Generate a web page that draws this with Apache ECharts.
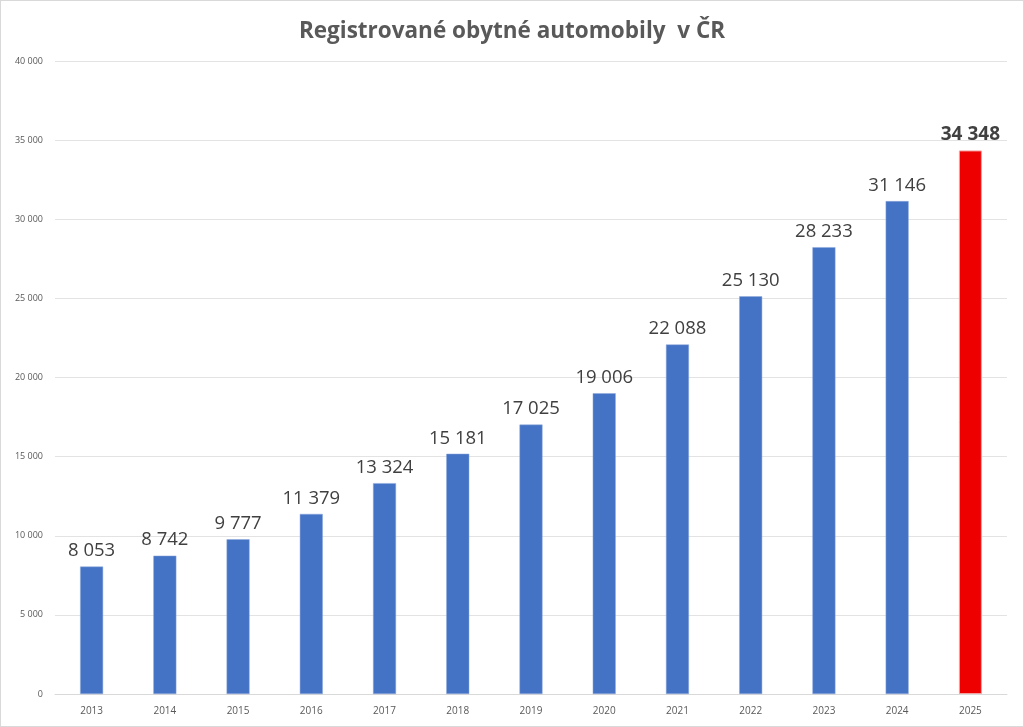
<!DOCTYPE html>
<html><head><meta charset="utf-8">
<script src="https://cdn.jsdelivr.net/npm/echarts@6/dist/echarts.min.js"></script>
<style>html,body{margin:0;padding:0;background:#fff}#c{width:1024px;height:727px;box-sizing:border-box;border:1px solid #d9d9d9}</style>
</head><body><div id="c"></div>
<script>
const years = ['2013','2014','2015','2016','2017','2018','2019','2020','2021','2022','2023','2024','2025'];
const values = [8053,8742,9777,11379,13324,15181,17025,19006,22088,25130,28233,31146,34348];
const title = 'Registrované obytné automobily  v ČR';
const fmt = v => String(v).replace(/\B(?=(\d{3})+(?!\d))/g, ' ');
const chart = echarts.init(document.getElementById('c'));
const data = values.map((v,i) => i === values.length-1 ? {
  value: v, itemStyle:{color:'#ee0000', borderColor:'#f4a0a0', borderWidth:1},
  label:{fontWeight:'bold', fontSize:19, color:'#404040'}
} : {value: v});
chart.setOption({
  animation:false,
  title:{text:title,left:'center',top:14,textStyle:{fontFamily:'Open Sans',fontSize:22.5,fontWeight:'bold',color:'#595959'}},
  grid:{left:54,right:16,top:60,bottom:32,containLabel:false},
  xAxis:{type:'category',data:years,
    axisLine:{lineStyle:{color:'#d9d9d9'}},axisTick:{show:false},
    axisLabel:{color:'#595959',fontSize:10,fontFamily:'Open Sans',margin:12}},
  yAxis:{type:'value',min:0,max:40000,interval:5000,
    axisLine:{show:false},axisTick:{show:false},
    splitLine:{lineStyle:{color:'#e3e3e3'}},
    axisLabel:{color:'#595959',fontSize:9,fontFamily:'Open Sans',margin:12,formatter:fmt}},
  series:[{type:'bar',data:data,barWidth:23,
    itemStyle:{color:'#4472c4',borderColor:'#8faadc',borderWidth:0.5},
    label:{show:true,position:'top',distance:6,fontSize:18.5,fontFamily:'Open Sans',color:'#404040',formatter:p=>fmt(p.value)}}]
});
</script></body></html>
